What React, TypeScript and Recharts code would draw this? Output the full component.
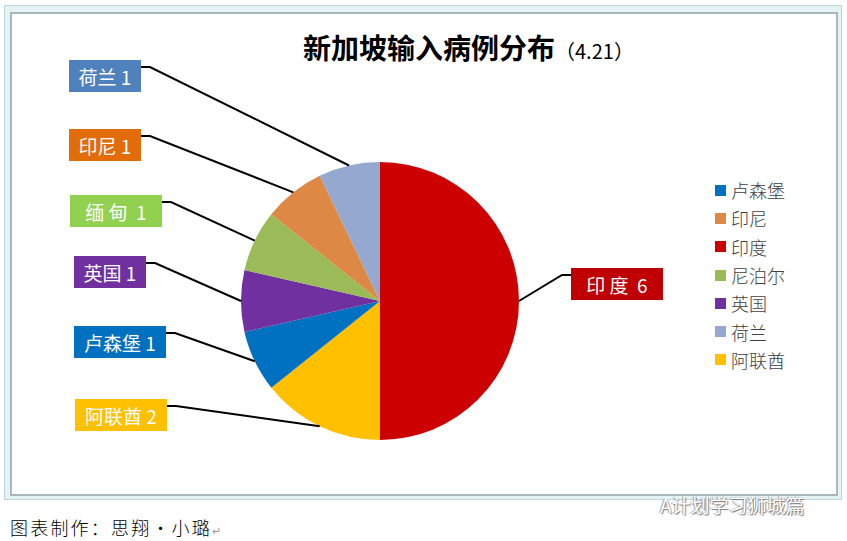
import React from "react";
import { PieChart, Pie, Legend } from "recharts";

const categories = ["印度", "阿联酋", "卢森堡", "英国", "尼泊尔", "印尼", "荷兰"];
const sliceValues = [7, 2, 1, 1, 1, 1, 1];
const sliceColors = ["#CC0000", "#FFC000", "#0070C0", "#7030A0", "#9BBB59", "#DD8844", "#95A9D0"];
const labelTexts = ["印 度  6", "阿联酋 2", "卢森堡 1", "英国 1", "缅 甸  1", "印尼 1", "荷兰 1"];
const labelColors = ["#C00000", "#FFC000", "#0070C0", "#7030A0", "#92D050", "#E36C0A", "#4F81BD"];
// label box: left, top, width
const labelBoxes = [
  [571, 268, 92],
  [75, 399, 92],
  [74, 326, 92],
  [74, 256, 72],
  [70, 195, 92],
  [69, 129, 72],
  [69, 60, 72],
];

const tableData = categories.map((name, i) => ({ name, value: sliceValues[i], fill: sliceColors[i] }));
const RAD = Math.PI / 180;
const CJK = '"Noto Sans CJK SC", "Noto Sans", sans-serif';

function renderLabel(p: any) {
  const i = p.index;
  const [x, y, w] = labelBoxes[i];
  const h = 32;
  const ex = p.cx + p.outerRadius * Math.cos(-p.midAngle * RAD);
  const ey = p.cy + p.outerRadius * Math.sin(-p.midAngle * RAD);
  const right = i === 0;
  const ax = right ? x : x + w;
  const bx = right ? x - 9 : x + w + 9;
  const ly = y + 7;
  return (
    <g key={i}>
      <polyline points={`${ax},${ly} ${bx},${ly} ${ex},${ey}`} fill="none" stroke="#000" strokeWidth={2} />
      <rect x={x} y={y} width={w} height={h} fill={labelColors[i]} />
      <text
        x={x + w / 2}
        y={y + 16}
        textAnchor="middle"
        dominantBaseline="central"
        fill="#fff"
        fontSize={19}
        fontFamily={CJK}
        style={{ whiteSpace: "pre" }}
      >
        {labelTexts[i]}
      </text>
    </g>
  );
}

function LegendList({ payload }: any) {
  return (
    <div>
      {(payload || []).map((e: any) => (
        <div key={e.value} style={{ display: "flex", alignItems: "center", height: 28.3 }}>
          <span style={{ width: 11, height: 11, background: e.payload?.fill ?? e.color, marginRight: 5, display: "inline-block" }} />
          <span style={{ fontSize: 18, color: "#404040", fontFamily: CJK, fontWeight: 300 }}>{e.value}</span>
        </div>
      ))}
    </div>
  );
}

const abs = (s: React.CSSProperties): React.CSSProperties => ({ position: "absolute", ...s });

export default function App() {
  return (
    <div style={abs({ left: 0, top: 0, width: 847, height: 541, background: "#fff", overflow: "hidden" })}>
      <div style={abs({ left: 4, top: 5, width: 838, height: 495, boxSizing: "border-box", background: "#E4F3F5", border: "1px solid #BFD5D8" })} />
      <div style={abs({ left: 10, top: 12, width: 828, height: 484, boxSizing: "border-box", background: "#fff", border: "2px solid #A9B8BC" })} />
      <PieChart width={847} height={541} style={{ position: "absolute", left: 0, top: 0 }}>
        <Pie
          data={tableData}
          dataKey="value"
          nameKey="name"
          cx={375}
          cy={296}
          outerRadius={139}
          startAngle={90}
          endAngle={-270}
          stroke="none"
          label={renderLabel}
          labelLine={false}
          isAnimationActive={false}
        />
        <Legend
          layout="vertical"
          content={<LegendList />}
          wrapperStyle={{ position: "absolute", left: 715, top: 176, width: 110, bottom: "auto", right: "auto" }}
        />
      </PieChart>
      <div style={abs({ left: 303, top: 27, whiteSpace: "nowrap", fontFamily: CJK, color: "#000", lineHeight: "40px" })}>
        <span style={{ fontSize: 28, fontWeight: 700 }}>新加坡输入病例分布</span>
        <span style={{ fontSize: 20 }}>（4.21）</span>
      </div>
      <div style={abs({ left: 10, top: 513, whiteSpace: "nowrap", fontFamily: CJK, fontSize: 18, fontWeight: 300, letterSpacing: 2.2, lineHeight: "28px", color: "#000" })}>
        图表制作：思翔•小璐<span style={{ color: "#999", fontSize: 11 }}>↵</span>
      </div>
      <div style={abs({ left: 660, top: 491, whiteSpace: "nowrap", fontFamily: CJK, fontSize: 19, lineHeight: "28px", color: "#fff", textShadow: "1px 1px 1px #777, -1px 0 1px #999" })}>
        A计划学习狮城篇
      </div>
    </div>
  );
}
